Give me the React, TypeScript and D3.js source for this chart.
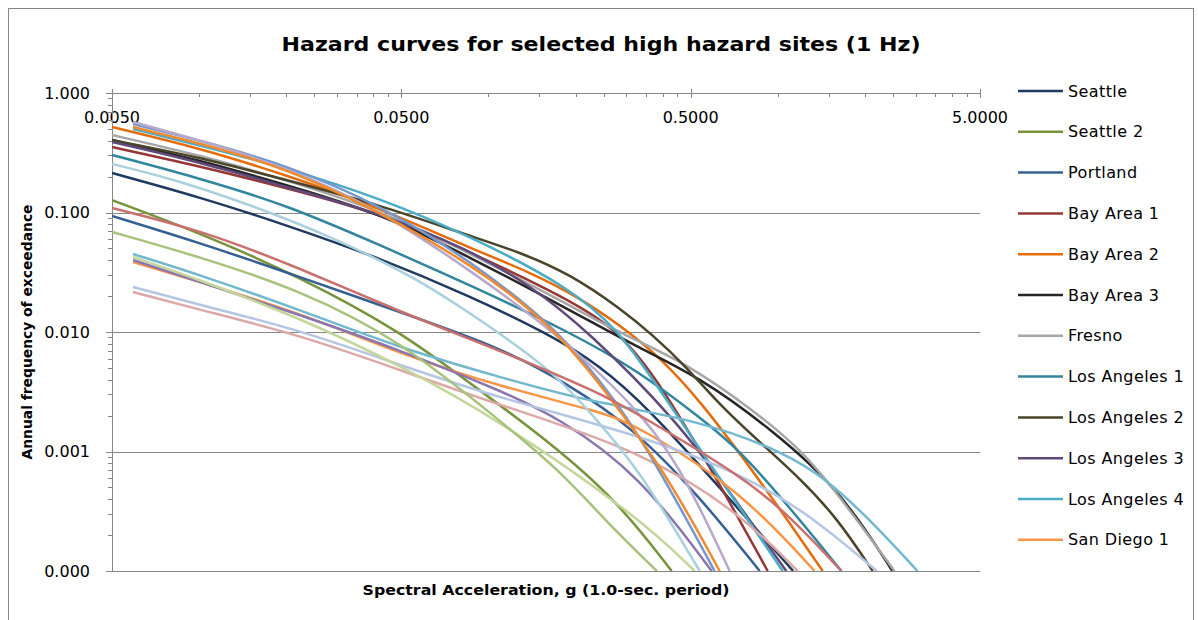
import React, { useEffect, useRef } from 'react'
import * as d3 from 'd3'

// hazard curves: [spectral acceleration (g), annual frequency of exceedance]
const seattle = [[0.005, 0.214], [0.01, 0.135], [0.02, 0.0786], [0.0421, 0.0416], [0.0862, 0.02], [0.159, 0.0098], [0.243, 0.00529], [0.361, 0.00223], [0.615, 0.000535], [1.13, 0.0001]]
const seattle2 = [[0.005, 0.127], [0.0101, 0.0674], [0.0223, 0.0289], [0.0494, 0.0102], [0.0862, 0.00374], [0.163, 0.0012], [0.278, 0.00039], [0.43, 0.0001]]
const portland = [[0.005, 0.0935], [0.0101, 0.0556], [0.0223, 0.0289], [0.0494, 0.0147], [0.109, 0.00749], [0.186, 0.00374], [0.315, 0.0016], [0.537, 0.00042], [0.866, 0.0001]]
const bayArea1 = [[0.005, 0.353], [0.01, 0.245], [0.02, 0.16], [0.0421, 0.099], [0.0862, 0.0467], [0.163, 0.0225], [0.243, 0.0131], [0.308, 0.00778], [0.382, 0.00396], [0.496, 0.00143], [0.645, 0.00048], [0.923, 0.0001]]
const bayArea2 = [[0.005, 0.519], [0.01, 0.347], [0.02, 0.206], [0.0421, 0.109], [0.0862, 0.0505], [0.139, 0.0318], [0.207, 0.0193], [0.284, 0.01145], [0.391, 0.00618], [0.537, 0.0027], [0.866, 0.00058], [1.43, 0.0001]]
const bayArea3 = [[0.005, 0.404], [0.01, 0.275], [0.02, 0.17], [0.0421, 0.099], [0.0862, 0.0424], [0.191, 0.0153], [0.326, 0.00749], [0.537, 0.0042], [0.96, 0.00151], [1.64, 0.00048], [2.49, 0.0001]]
const fresno = [[0.005, 0.445], [0.01, 0.303], [0.02, 0.187], [0.0421, 0.105], [0.0862, 0.0458], [0.191, 0.0168], [0.284, 0.0098], [0.484, 0.0055], [0.819, 0.00223], [1.19, 0.00107], [1.64, 0.00042], [2.53, 0.0001]]
const losAngeles1 = [[0.005, 0.303], [0.01, 0.194], [0.02, 0.116], [0.0421, 0.0535], [0.0862, 0.0247], [0.191, 0.01], [0.326, 0.00481], [0.537, 0.00194], [0.739, 0.00103], [1.1, 0.00034], [1.66, 0.0001]]
const losAngeles2 = [[0.005, 0.404], [0.01, 0.291], [0.02, 0.187], [0.0421, 0.116], [0.0862, 0.0636], [0.128, 0.0467], [0.191, 0.0306], [0.284, 0.0159], [0.37, 0.00944], [0.484, 0.00509], [0.63, 0.00245], [0.866, 0.0012], [1.19, 0.0006], [1.6, 0.00028], [2.13, 0.0001]]
const losAngeles3 = [[0.005, 0.389], [0.01, 0.265], [0.02, 0.163], [0.0421, 0.099], [0.0862, 0.0486], [0.139, 0.0247], [0.219, 0.0104], [0.447, 0.00183], [0.682, 0.000458], [1.07, 0.0001]]
const losAngeles4 = [[0.00591, 0.5], [0.01, 0.367], [0.02, 0.236], [0.0421, 0.132], [0.0862, 0.0636], [0.191, 0.0238], [0.284, 0.01], [0.361, 0.00437], [0.615, 0.00065], [1.04, 0.0001]]
const sanDiego1 = [[0.00591, 0.0385], [0.0101, 0.0262], [0.0223, 0.0144], [0.0494, 0.0066], [0.109, 0.0035], [0.248, 0.00214], [0.333, 0.0016], [0.739, 0.00048], [1.34, 0.0001]]

// remaining sites (no legend entry in the original)
const site13 = [[0.00591, 0.0449], [0.0101, 0.03], [0.0223, 0.0153], [0.0494, 0.00735], [0.109, 0.0042], [0.224, 0.0026], [0.537, 0.00183], [1.07, 0.00097], [1.48, 0.00058], [2.08, 0.00027], [3.04, 0.0001]]
const site14 = [[0.00591, 0.04], [0.0101, 0.0262], [0.0223, 0.0139], [0.0494, 0.00707], [0.109, 0.00327], [0.176, 0.00191], [0.333, 0.00064], [0.591, 0.0001]]
const site15 = [[0.00591, 0.0238], [0.0101, 0.0168], [0.0223, 0.0104], [0.0494, 0.00529], [0.109, 0.0028], [0.333, 0.00137], [0.739, 0.00066], [1.26, 0.00031], [2.2, 0.0001]]
const site16 = [[0.00591, 0.0216], [0.0101, 0.0153], [0.0223, 0.00944], [0.0494, 0.00481], [0.109, 0.00245], [0.333, 0.00103], [0.739, 0.00031], [1.17, 0.0001]]
const site17 = [[0.00591, 0.0424], [0.0101, 0.0272], [0.0223, 0.0131], [0.0494, 0.00529], [0.109, 0.00183], [0.333, 0.00028], [0.516, 0.0001]]
const site18 = [[0.005, 0.255], [0.00839, 0.187], [0.015, 0.116], [0.029, 0.0624], [0.0579, 0.0272], [0.0862, 0.0144], [0.167, 0.00481], [0.237, 0.00183], [0.333, 0.0007], [0.537, 0.0001]]
const site19 = [[0.00591, 0.55], [0.01, 0.404], [0.02, 0.25], [0.0421, 0.116], [0.0862, 0.04], [0.176, 0.0104], [0.284, 0.00245], [0.391, 0.0007], [0.605, 0.0001]]
const site20 = [[0.00591, 0.572], [0.01, 0.404], [0.02, 0.24], [0.0421, 0.105], [0.0862, 0.033], [0.176, 0.00944], [0.361, 0.00183], [0.496, 0.00052], [0.682, 0.0001]]
const site21 = [[0.00591, 0.519], [0.01, 0.382], [0.02, 0.236], [0.0421, 0.101], [0.0862, 0.0378], [0.176, 0.0104], [0.301, 0.00183], [0.423, 0.00058], [0.63, 0.0001]]
const site22 = [[0.005, 0.109], [0.0101, 0.0714], [0.0223, 0.0343], [0.0494, 0.0147], [0.109, 0.00707], [0.243, 0.00309], [0.333, 0.00202], [0.739, 0.00064], [1.1, 0.00029], [1.66, 0.0001]]
const site23 = [[0.005, 0.0687], [0.0101, 0.0424], [0.0223, 0.0225], [0.0494, 0.00857], [0.109, 0.00183], [0.176, 0.0007], [0.263, 0.00024], [0.382, 0.0001]]

const legendNames = ['Seattle', 'Seattle 2', 'Portland', 'Bay Area 1', 'Bay Area 2', 'Bay Area 3', 'Fresno', 'Los Angeles 1', 'Los Angeles 2', 'Los Angeles 3', 'Los Angeles 4', 'San Diego 1']
const curves = [seattle, seattle2, portland, bayArea1, bayArea2, bayArea3, fresno, losAngeles1, losAngeles2, losAngeles3, losAngeles4, sanDiego1,
    site13, site14, site15, site16, site17, site18, site19, site20, site21, site22, site23]
const colors = ['#1F3A60', '#77933C', '#376092', '#953735', '#E46C0A', '#262626', '#A6A6A6', '#31859C', '#4A452A', '#604A7B', '#4BACC6', '#F79646',
    '#72B8CF', '#8C76AE', '#B4C6E3', '#DCA9A8', '#C3D69B', '#A8D0DD', '#7697CC', '#B7A8CC', '#EF8A2E', '#C8706E', '#A6C27B']

const xMajor = [0.005, 0.05, 0.5, 5]
const yMajor = [1, 0.1, 0.01, 0.001, 0.0001]

const W = 1198
const H = 620
const left = 112, right = 980, top = 93, bottom = 571
const axisGrey = '#868686'

export default function App() {
    const ref = useRef(null)

    useEffect(() => {
        const svg = d3.select(ref.current)
        svg.selectAll('*').remove()

        const x = d3.scaleLog().domain([0.005, 5]).range([left, right])
        const y = d3.scaleLog().domain([0.0001, 1]).range([bottom, top])

        /* chart frame */
        svg.append('rect')
            .attr('x', 8.5).attr('y', 8.5)
            .attr('width', 1185).attr('height', 640)
            .attr('fill', 'white').attr('stroke', axisGrey)

        /* title */
        svg.append('text')
            .attr('x', 601).attr('y', 51)
            .attr('text-anchor', 'middle')
            .attr('font-family', 'DejaVu Sans')
            .attr('font-weight', 'bold')
            .attr('font-size', 20)
            .attr('textLength', 639)
            .attr('lengthAdjust', 'spacingAndGlyphs')
            .text('Hazard curves for selected high hazard sites (1 Hz)')

        /* horizontal gridlines */
        svg.append('g')
            .selectAll('line')
            .data(yMajor)
            .enter()
            .append('line')
            .attr('x1', left).attr('x2', right)
            .attr('y1', (d) => Math.round(y(d)) + 0.5)
            .attr('y2', (d) => Math.round(y(d)) + 0.5)
            .attr('stroke', axisGrey)

        /* minor tick positions: 2..9 times each major */
        const xMinor = []
        xMajor.slice(0, -1).forEach((b) => { for (let k = 2; k < 10; k += 1) xMinor.push(b * k) })
        const yMinor = []
        yMajor.slice(1).forEach((b) => { for (let k = 2; k < 10; k += 1) yMinor.push(b * k) })

        /* x axis along the top */
        const gx = svg.append('g')
        gx.append('line')
            .attr('x1', left).attr('x2', right)
            .attr('y1', top + 0.5).attr('y2', top + 0.5)
            .attr('stroke', axisGrey)
        gx.selectAll('.major')
            .data(xMajor)
            .enter()
            .append('line')
            .attr('x1', (d) => Math.round(x(d)) + 0.5).attr('x2', (d) => Math.round(x(d)) + 0.5)
            .attr('y1', top - 4).attr('y2', top + 5)
            .attr('stroke', axisGrey)
        gx.selectAll('.minor')
            .data(xMinor)
            .enter()
            .append('line')
            .attr('x1', (d) => Math.round(x(d)) + 0.5).attr('x2', (d) => Math.round(x(d)) + 0.5)
            .attr('y1', top).attr('y2', top + 4)
            .attr('stroke', axisGrey)
        gx.selectAll('text')
            .data(xMajor)
            .enter()
            .append('text')
            .attr('x', (d) => x(d))
            .attr('y', 123)
            .attr('text-anchor', 'middle')
            .attr('font-family', 'DejaVu Sans')
            .attr('font-size', 16)
            .text((d) => d3.format('.4f')(d))

        /* y axis */
        const gy = svg.append('g')
        gy.append('line')
            .attr('x1', left + 0.5).attr('x2', left + 0.5)
            .attr('y1', top).attr('y2', bottom)
            .attr('stroke', axisGrey)
        gy.selectAll('.major')
            .data(yMajor)
            .enter()
            .append('line')
            .attr('x1', left - 6).attr('x2', left + 1)
            .attr('y1', (d) => Math.round(y(d)) + 0.5).attr('y2', (d) => Math.round(y(d)) + 0.5)
            .attr('stroke', axisGrey)
        gy.selectAll('.minor')
            .data(yMinor)
            .enter()
            .append('line')
            .attr('x1', left - 4).attr('x2', left)
            .attr('y1', (d) => Math.round(y(d)) + 0.5).attr('y2', (d) => Math.round(y(d)) + 0.5)
            .attr('stroke', axisGrey)
        gy.selectAll('text')
            .data(yMajor)
            .enter()
            .append('text')
            .attr('x', 90)
            .attr('y', (d) => y(d) + 5.5)
            .attr('text-anchor', 'end')
            .attr('font-family', 'DejaVu Sans')
            .attr('font-size', 16)
            .text((d) => d3.format('.3f')(d))

        /* axis titles */
        svg.append('text')
            .attr('transform', 'translate(32,332) rotate(-90)')
            .attr('text-anchor', 'middle')
            .attr('font-family', 'DejaVu Sans')
            .attr('font-weight', 'bold')
            .attr('font-size', 13.5)
            .attr('textLength', 255)
            .attr('lengthAdjust', 'spacingAndGlyphs')
            .text('Annual frequency of exceedance')
        svg.append('text')
            .attr('x', 546).attr('y', 595)
            .attr('text-anchor', 'middle')
            .attr('font-family', 'DejaVu Sans')
            .attr('font-weight', 'bold')
            .attr('font-size', 13.5)
            .attr('textLength', 367)
            .attr('lengthAdjust', 'spacingAndGlyphs')
            .text('Spectral Acceleration,  g (1.0-sec. period)')

        /* curves */
        svg.append('clipPath').attr('id', 'plot-clip')
            .append('rect')
            .attr('x', left).attr('y', top - 2)
            .attr('width', right - left).attr('height', bottom - top + 2)

        const line = d3.line()
            .x((d) => x(d[0]))
            .y((d) => y(d[1]))
            .curve(d3.curveBasis)

        svg.append('g')
            .attr('clip-path', 'url(#plot-clip)')
            .selectAll('path')
            .data(curves)
            .enter()
            .append('path')
            .attr('d', (d) => line(d))
            .attr('fill', 'none')
            .attr('stroke', (d, i) => colors[i])
            .attr('stroke-width', 2.5)

        /* legend */
        const legend = svg.append('g')
            .selectAll('g')
            .data(legendNames)
            .enter()
            .append('g')
            .attr('transform', (d, i) => 'translate(0,' + (91 + i * 40.8) + ')')
        legend.append('line')
            .attr('x1', 1018).attr('x2', 1063)
            .attr('stroke', (d, i) => colors[i])
            .attr('stroke-width', 2.5)
        legend.append('text')
            .attr('x', 1068).attr('y', 5.5)
            .attr('font-family', 'DejaVu Sans')
            .attr('font-size', 16)
            .attr('letter-spacing', 0.4)
            .text((d) => d)
    }, [])

    return (
        <svg ref={ref} width={W} height={H}
            style={{ position: 'absolute', left: 0, top: 0, display: 'block' }}>
        </svg>
    )
}
